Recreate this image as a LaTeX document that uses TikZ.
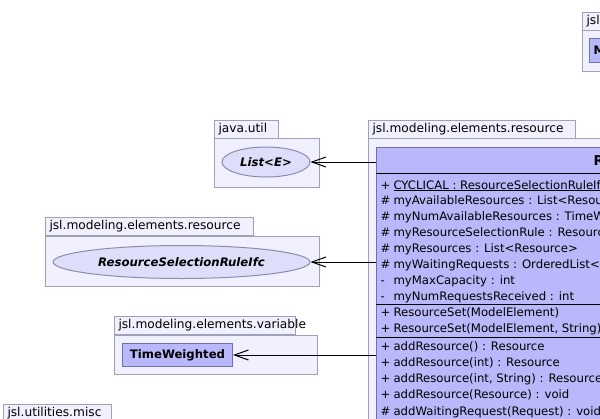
\documentclass[tikz,border=0pt]{standalone}
\usepackage{fontspec}
\setmainfont{DejaVu Sans}
\usetikzlibrary{arrows.meta,positioning,shapes.geometric}

\definecolor{pkgfill}{RGB}{240,240,254}
\definecolor{pkgline}{RGB}{160,160,182}
\definecolor{clsfill}{RGB}{184,184,250}
\definecolor{clsline}{RGB}{112,112,172}
\definecolor{ifcfill}{RGB}{222,222,250}
\definecolor{ifcline}{RGB}{140,140,172}

\newcommand{\umlfont}{\fontsize{11.7}{14}\selectfont}
\newcommand{\tabfont}{\fontsize{12.2}{14.5}\selectfont}
\newcommand{\headfont}{\fontsize{13.5}{16}\selectfont\bfseries}

\tikzset{
  pkgbody/.style={draw=pkgline, fill=pkgfill, anchor=north west, inner sep=0pt},
  pkgtab/.style={draw=pkgline, fill=pkgfill, anchor=north west, minimum height=18,
    inner xsep=4pt, inner ysep=0pt, align=left, font=\tabfont},
  clsbox/.style={draw=clsline, fill=clsfill, anchor=north west, inner sep=0pt},
  ifcnode/.style={ellipse, draw=ifcline, fill=ifcfill, inner sep=0pt,
    font=\umlfont\bfseries\itshape},
  member/.style={anchor=base west, inner sep=0pt, font=\umlfont},
  dep/.style={draw=black, -{Straight Barb[length=14pt,width=10pt]}},
}

\begin{document}
\begin{tikzpicture}[x=1pt, y=-1pt, line width=1pt]
\useasboundingbox (0,0) rectangle (600,418);
\clip (0,0) rectangle (600,418);

% package frames
\node[pkgbody, minimum width=40, minimum height=41] (mebody) at (582,30) {};
\node[pkgtab, text width=40] (metab) at (582,12) {jsl.modeling};
\node[pkgbody, minimum width=105, minimum height=49] (utilbody) at (214,138) {};
\node[pkgtab, text width=56] (utiltab) at (214,120) {java.util};
\node[pkgbody, minimum width=300, minimum height=300] (resbody) at (368,138) {};
\node[pkgtab, text width=199] (restab) at (368,120) {jsl.modeling.elements.resource};
\node[pkgbody, minimum width=274, minimum height=50] (rulebody) at (45,236) {};
\node[pkgtab, text width=200] (ruletab) at (45,217) {jsl.modeling.elements.resource};
\node[pkgbody, minimum width=203, minimum height=39] (varbody) at (114,335) {};
\node[pkgtab, text width=173] (vartab) at (114,316) {jsl.modeling.elements.variable};
\node[pkgtab, text width=100] (misctab) at (3,404) {jsl.utilities.misc};

% classes and interfaces
\node[clsbox, minimum width=40, minimum height=24] (me) at (589,38) {};
\node[anchor=west, inner sep=0pt, font=\umlfont\bfseries] (mename) at (593,50) {ModelElement};
\node[ifcnode, minimum width=88, minimum height=30] (listE) at (266,162) {List<E>};
\node[ifcnode, minimum width=257, minimum height=33] (rule) at (181.5,262) {ResourceSelectionRuleIfc};
\node[clsbox, minimum width=110, minimum height=23, font=\umlfont\bfseries] (tw) at (122,343) {TimeWeighted};

% ResourceSet
\node[clsbox, minimum width=516, minimum height=26] (rshead) at (376,147) {};
\node[clsbox, minimum width=516, minimum height=131] (rsattr) at (376,173) {};
\node[clsbox, minimum width=516, minimum height=33] (rsctor) at (376,304) {};
\node[clsbox, minimum width=516, minimum height=263] (rsops) at (376,337) {};
\draw (rsattr.north west) -- (rsattr.north east);
\draw (rsctor.north west) -- (rsctor.north east);
\draw (rsops.north west) -- (rsops.north east);
\node[anchor=base west, inner sep=0pt, font=\headfont] (rsname) at (593,165) {ResourceSet};

\foreach \v/\t [count=\i] in {+/{\underline{CYCLICAL : ResourceSelectionRuleIfc}},
    \#/{myAvailableResources : List<Resource>},
    \#/{myNumAvailableResources : TimeWeighted},
    \#/{myResourceSelectionRule : ResourceSelectionRuleIfc},
    \#/{myResources : List<Resource>},
    \#/{myWaitingRequests : OrderedList<Request>},
    -/{myMaxCapacity : int},
    -/{myNumRequestsReceived : int}}
  \node[member] (attr\i) at (380,{189+15.86*(\i-1)}) {\makebox[13pt][l]{\v}\t};

\foreach \v/\t [count=\i] in {+/{ResourceSet(ModelElement)},
    +/{ResourceSet(ModelElement, String)}}
  \node[member] (ctor\i) at (380,{316+16.5*(\i-1)}) {\makebox[13pt][l]{\v}\t};

\foreach \v/\t [count=\i] in {+/{addResource() : Resource},
    +/{addResource(int) : Resource},
    +/{addResource(int, String) : Resource},
    +/{addResource(Resource) : void},
    \#/{addWaitingRequest(Request) : void}}
  \node[member] (op\i) at (380,{350+16.25*(\i-1)}) {\makebox[13pt][l]{\v}\t};

% dependencies
\draw[dep] (rshead.west |- listE.east) -- (listE.east);
\draw[dep] (rsattr.west |- rule.east) -- (rule.east);
\draw[dep] (rsops.west |- tw.east) -- (tw.east);
\end{tikzpicture}
\end{document}
